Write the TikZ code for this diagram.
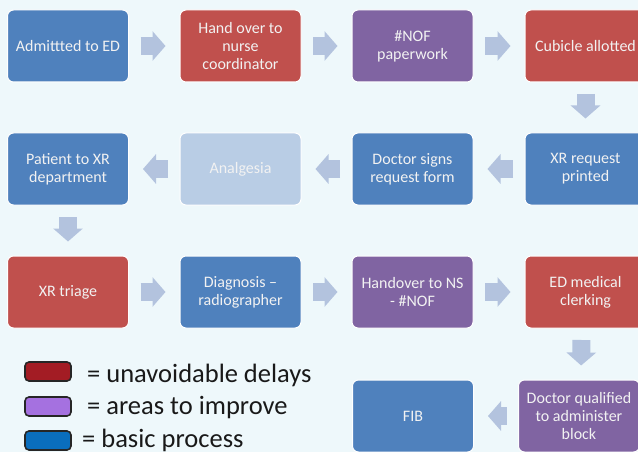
\documentclass[tikz,border=0pt]{standalone}
\usepackage{fontspec}
\setmainfont{Carlito}
\usetikzlibrary{arrows.meta}
\definecolor{bgc}{HTML}{EEF8FB}
\definecolor{bluebox}{HTML}{4F81BD}
\definecolor{redbox}{HTML}{C0504D}
\definecolor{purplebox}{HTML}{8064A2}
\definecolor{lightbox}{HTML}{B9CDE5}
\definecolor{arrowc}{HTML}{B3C3DE}
\definecolor{legred}{HTML}{A31C24}
\definecolor{legpurple}{HTML}{A571E0}
\definecolor{legblue}{HTML}{0A6EBD}
\tikzset{
  box/.style={rounded corners=6pt, draw=white, line width=1pt,
    minimum width=121pt, minimum height=72pt, inner sep=2pt,
    align=center, text=white!95!black,
    font=\fontsize{16}{17.8}\selectfont},
  bluestep/.style={box, fill=bluebox},
  redstep/.style={box, fill=redbox},
  purplestep/.style={box, fill=purplebox},
  lightstep/.style={box, fill=lightbox},
  flow/.style={draw=arrowc, line width=18pt,
    -{Triangle[width=29pt,length=13pt]},
    shorten <=11.5pt, shorten >=14pt},
  legbox/.style={draw=black!85, line width=1.6pt, rounded corners=4pt,
    minimum width=46pt, minimum height=19pt, inner sep=0pt},
  legtext/.style={anchor=west, inner sep=0pt, text=black!90,
    font=\fontsize{26.5}{28}\selectfont}
}
\begin{document}
\begin{tikzpicture}[x=1pt,y=-1pt]
\useasboundingbox (0,0) rectangle (638,452);
\fill[bgc] (0,0) rectangle (638,452);
\clip (0,0) rectangle (638,452);
% row 1
\node[bluestep] (a1) at (68,46) {Admittted to ED};
\node[redstep] (a2) at (240.5,46) {Hand over to\\nurse\\coordinator};
\node[purplestep] (a3) at (412.5,46) {\#NOF\\paperwork};
\node[redstep] (a4) at (585.5,46) {Cubicle allotted};
% row 2
\node[bluestep] (b4) at (585.5,169) {XR request\\printed};
\node[bluestep] (b3) at (412.5,169) {Doctor signs\\request form};
\node[lightstep] (b2) at (240.5,169) {Analgesia};
\node[bluestep] (b1) at (68,169) {Patient to XR\\department};
% row 3
\node[redstep] (c1) at (68,292) {XR triage};
\node[bluestep] (c2) at (240.5,292) {Diagnosis --\\radiographer};
\node[purplestep] (c3) at (412.5,292) {Handover to NS\\- \#NOF};
\node[redstep] (c4) at (585.5,292) {ED medical\\clerking};
% row 4
\node[purplestep] (d2) at (579,416) {Doctor qualified\\to administer\\block};
\node[bluestep] (d1) at (413,416) {FIB};
% arrows
\draw[flow] (a1) -- (a2);
\draw[flow] (a2) -- (a3);
\draw[flow] (a3) -- (a4);
\draw[flow] (a4) -- (b4);
\draw[flow] (b4) -- (b3);
\draw[flow] (b3) -- (b2);
\draw[flow] (b2) -- (b1);
\draw[flow] (b1) -- (c1);
\draw[flow] (c1) -- (c2);
\draw[flow] (c2) -- (c3);
\draw[flow] (c3) -- (c4);
\draw[flow] ([xshift=-4pt]c4.south) -- ([xshift=2pt]d2.north);
\draw[flow] (d2) -- (d1);
% legend
\node[legbox, fill=legred] (l1) at (48,371.5) {};
\node[legbox, fill=legpurple] (l2) at (48,406.5) {};
\node[legbox, fill=legblue] (l3) at (48,440.5) {};
\node[legtext] (t1) at (87,375) {= unavoidable delays};
\node[legtext] (t2) at (87,408) {= areas to improve};
\node[legtext] (t3) at (82,440) {= basic process};
\end{tikzpicture}
\end{document}
